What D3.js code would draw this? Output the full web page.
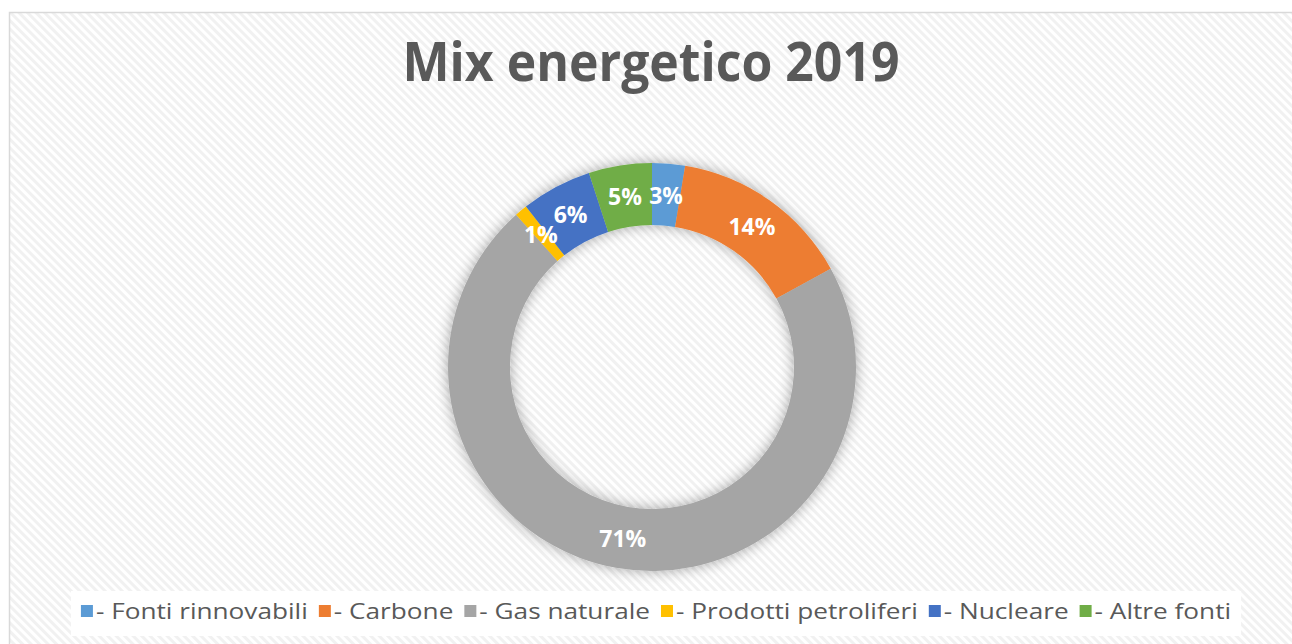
<!DOCTYPE html>
<html>
<head>
<meta charset="utf-8">
<script src="https://cdn.jsdelivr.net/npm/d3@7"></script>
<style>
  body { margin: 0; background: #ffffff; }
  svg { display: block; }
</style>
</head>
<body>
<div id="chart"></div>
<script>
// data (share of the mix, %)
const categories = ["- Fonti rinnovabili", "- Carbone", "- Gas naturale", "- Prodotti petroliferi", "- Nucleare", "- Altre fonti"];
const values = [2.6, 14.4, 71.4, 1.0, 5.6, 5.0];
const labels = ["3%", "14%", "71%", "1%", "6%", "5%"];
const colors = ["#5b9bd5", "#ed7d31", "#a5a5a5", "#ffc000", "#4472c4", "#70ad47"];

const width = 1292;
const height = 644;

const svg = d3.select("#chart")
    .append("svg")
    .attr("width", width)
    .attr("height", height);

const defs = svg.append("defs");

// diagonal hatch background
const pat = defs.append("pattern")
    .attr("id", "hatch")
    .attr("width", 6)
    .attr("height", 6)
    .attr("patternUnits", "userSpaceOnUse")
    .attr("patternTransform", "rotate(45)");
pat.append("rect").attr("width", 6).attr("height", 6).attr("fill", "#ffffff");
pat.append("rect").attr("width", 6).attr("height", 3).attr("fill", "#f1f1f1");

// soft shadow round the ring
const filt = defs.append("filter")
    .attr("id", "shadow")
    .attr("x", "-20%").attr("y", "-20%")
    .attr("width", "140%").attr("height", "140%");
filt.append("feDropShadow")
    .attr("dx", 0).attr("dy", 0)
    .attr("stdDeviation", 7)
    .attr("flood-color", "#000000")
    .attr("flood-opacity", 0.35);

// chart area with border
svg.append("rect")
    .attr("x", 9.5).attr("y", 12.5)
    .attr("width", width + 10).attr("height", height + 10)
    .attr("fill", "url(#hatch)")
    .attr("stroke", "#d9d9d9")
    .attr("stroke-width", 1.5);

// title
svg.append("text")
    .text("Mix energetico 2019")
    .attr("x", 651)
    .attr("y", 81)
    .attr("text-anchor", "middle")
    .attr("font-family", "'Open Sans', sans-serif")
    .attr("font-weight", 700)
    .attr("font-size", 54)
    .attr("textLength", 497)
    .attr("lengthAdjust", "spacingAndGlyphs")
    .attr("fill", "#595959");

// donut
const cx = 652, cy = 367;
const outerR = 204, innerR = 142;

const pie = d3.pie().sort(null).value(d => d.value);
const arc = d3.arc().innerRadius(innerR).outerRadius(outerR);
const labelArc = d3.arc().innerRadius((innerR + outerR) / 2).outerRadius((innerR + outerR) / 2);

const data = categories.map((c, i) => ({ name: c, value: values[i], label: labels[i], color: colors[i] }));
const arcs = pie(data);

const donut = svg.append("g")
    .attr("transform", `translate(${cx},${cy})`);

donut.append("g")
    .attr("filter", "url(#shadow)")
    .selectAll("path")
    .data(arcs)
    .join("path")
        .attr("d", arc)
        .attr("fill", d => d.data.color);

donut.selectAll(".lbl")
    .data(arcs)
    .join("text")
        .attr("class", "lbl")
        .text(d => d.data.label)
        .attr("x", d => labelArc.centroid(d)[0])
        .attr("y", d => labelArc.centroid(d)[1])
        .attr("text-anchor", "middle")
        .attr("dominant-baseline", "central")
        .attr("font-family", "'Open Sans', sans-serif")
        .attr("font-weight", 700)
        .attr("font-size", 23)
        .attr("fill", "#ffffff");

// legend (text stretched a little, the original face is wider)
const legendBox = svg.append("rect")
    .attr("fill", "#ffffff");

const legend = svg.append("g");
let xPos = 0;
data.forEach(d => {
    const item = legend.append("g").attr("transform", `translate(${xPos},0)`);
    item.append("rect")
        .attr("x", 0).attr("y", -14)
        .attr("width", 12).attr("height", 12)
        .attr("fill", d.color);
    const t = item.append("text")
        .text(d.name)
        .attr("x", 15)
        .attr("y", 0)
        .attr("font-family", "'Open Sans', sans-serif")
        .attr("font-size", 22)
        .attr("fill", "#595959");
    const w = t.node().getComputedTextLength() * 1.19;
    t.attr("textLength", w).attr("lengthAdjust", "spacingAndGlyphs");
    xPos += 15 + w + 11;
});
const legendW = xPos - 11;
legend.attr("transform", `translate(${656 - legendW / 2},619)`);
legendBox
    .attr("x", 656 - legendW / 2 - 10)
    .attr("y", 591)
    .attr("width", legendW + 20)
    .attr("height", 45);
</script>
</body>
</html>
